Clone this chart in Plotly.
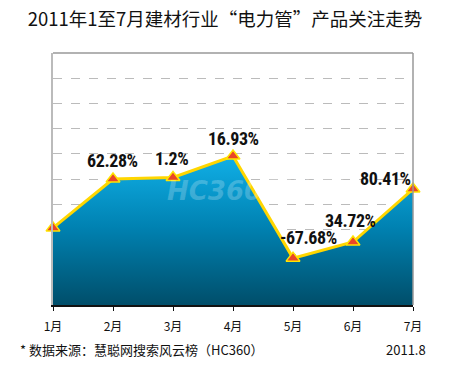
import plotly.graph_objects as go

months = ["1月", "2月", "3月", "4月", "5月", "6月", "7月"]
index_values = [3.06, 5.0, 5.06, 5.91, 1.86, 2.5, 4.6]
growth_labels = ["", "62.28%", "1.2%", "16.93%", "-67.68%", "34.72%", "80.41%"]
title_text = "2011年1至7月建材行业“电力管”产品关注走势"
source_text = "* 数据来源：慧聪网搜索风云榜（HC360）"
date_text = "2011.8"

W, H = 450, 370
L, R, T, B = 53, 37, 53, 65
plot_h = H - T - B

xs = list(range(len(months)))

fig = go.Figure()
fig.add_trace(go.Scatter(
    x=xs, y=index_values,
    mode="lines+markers",
    fill="tozeroy",
    fillgradient=dict(
        type="vertical",
        start=0, stop=6.2,
        colorscale=[[0, "#004E6A"], [0.5, "#0082B2"], [1, "#12B4EC"]],
    ),
    line=dict(color="#FFD600", width=3),
    marker=dict(symbol="triangle-up", size=12, color="#EA4528",
                line=dict(color="#FFE400", width=1.5)),
    cliponaxis=False,
    hoverinfo="skip",
    showlegend=False,
))

# label offsets (styling)
offsets = [(0, 0), (-1, 19), (-2, 19), (0, 18), (15, 21), (-3, 22), (-28, 11)]
for i, lab in enumerate(growth_labels):
    if not lab:
        continue
    dx, dy = offsets[i]
    fig.add_annotation(
        x=xs[i], y=index_values[i],
        text="<span style='letter-spacing:-0.4px'>" + lab + "</span>",
        showarrow=False, xshift=dx, yshift=dy,
        font=dict(family="Roboto Condensed, Roboto", weight="bold",
                  size=18, color="#111111"),
    )

# watermark
fig.add_annotation(
    xref="paper", yref="paper", x=(255 - L) / 360, y=(305 - 191) / plot_h,
    text="<b><i>HC360慧聪网</i></b>", showarrow=False,
    font=dict(family="DejaVu Sans, Noto Sans CJK SC", size=26, color="rgba(255,255,255,0.22)"),
)

# footer
fig.add_annotation(
    xref="paper", yref="paper", x=(18 - L) / 360, y=(305 - 349) / plot_h,
    xanchor="left", yanchor="middle", text=source_text, showarrow=False,
    font=dict(family="Noto Sans CJK SC", size=13, color="#111111"),
)
fig.add_annotation(
    xref="paper", yref="paper", x=(428 - L) / 360, y=(305 - 349) / plot_h,
    xanchor="right", yanchor="middle", text=date_text, showarrow=False,
    font=dict(family="Noto Sans CJK SC", size=13, color="#111111"),
)

# top and right borders
fig.add_shape(type="line", xref="paper", yref="paper", x0=0, x1=1, y0=1, y1=1,
              line=dict(color="#999999", width=1.5))
fig.add_shape(type="line", xref="paper", yref="paper", x0=1, x1=1, y0=0, y1=1,
              line=dict(color="#999999", width=1.5))

fig.update_layout(
    width=W, height=H,
    margin=dict(l=L, r=R, t=T, b=B),
    paper_bgcolor="white", plot_bgcolor="white",
    title=dict(text=title_text, x=0.5, xanchor="center", y=1 - 20 / H, yanchor="middle",
               yref="container",
               font=dict(family="Noto Sans CJK SC", size=18.5, color="#111111")),
    xaxis=dict(
        range=[0, 6], tickvals=xs, ticktext=months,
        showgrid=False, zeroline=False,
        showline=True, linecolor="#111111", linewidth=1.5,
        ticks="outside", ticklen=4, tickcolor="#111111",
        ticklabelstandoff=6,
        tickfont=dict(family="Noto Sans CJK SC", size=12, color="#111111"),
    ),
    yaxis=dict(
        range=[0, 10], dtick=1, showticklabels=False,
        showgrid=True, gridcolor="#BBBBBB", griddash="dash", gridwidth=1,
        zeroline=False, showline=True, linecolor="#BBBBBB", linewidth=1.5,
    ),
)

fig.write_html("out.html", config={"displayModeBar": False},
               post_script="document.body.style.margin='0';")
